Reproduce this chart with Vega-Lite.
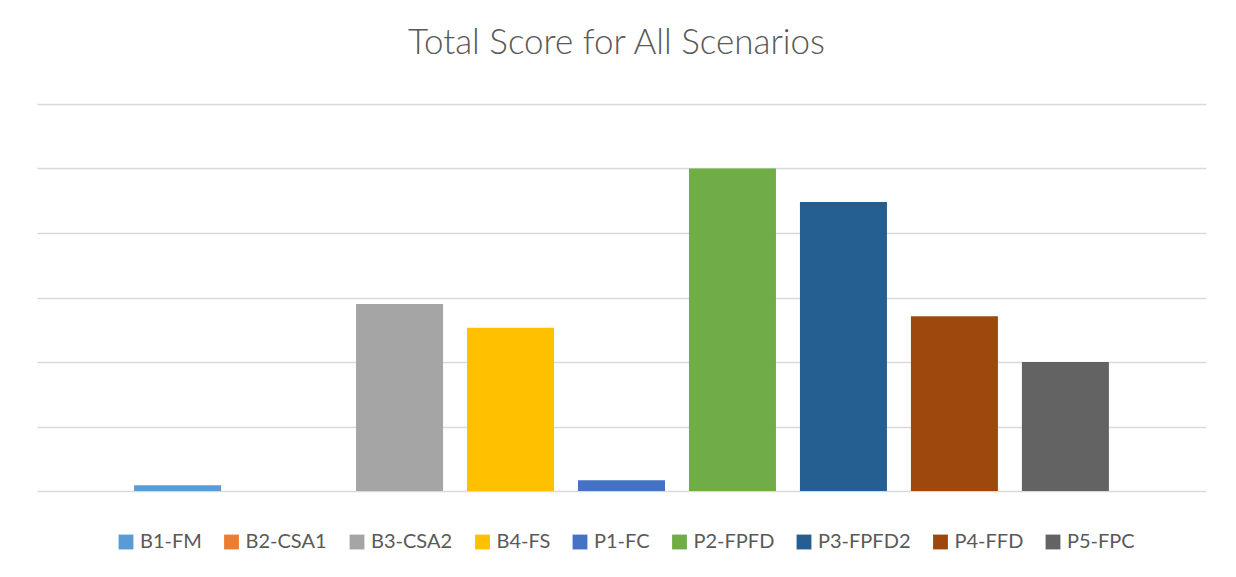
{
  "$schema": "https://vega.github.io/schema/vega-lite/v6.json",
  "width": 1169,
  "height": 387,
  "autosize": "none",
  "padding": {"left": 37, "top": 104, "right": 30, "bottom": 86},
  "background": "white",
  "title": {
    "text": "Total Score for All Scenarios",
    "font": "Lato",
    "fontWeight": 300,
    "fontSize": 35,
    "color": "#595959",
    "anchor": "middle",
    "dx": -5,
    "offset": 43
  },
  "data": {
    "values": [
      {"Scenario": "B1-FM", "Score": 0.09},
      {"Scenario": "B2-CSA1", "Score": 0},
      {"Scenario": "B3-CSA2", "Score": 2.9},
      {"Scenario": "B4-FS", "Score": 2.53},
      {"Scenario": "P1-FC", "Score": 0.166},
      {"Scenario": "P2-FPFD", "Score": 5.0},
      {"Scenario": "P3-FPFD2", "Score": 4.48},
      {"Scenario": "P4-FFD", "Score": 2.71},
      {"Scenario": "P5-FPC", "Score": 2.0}
    ]
  },
  "mark": {"type": "bar"},
  "encoding": {
    "x": {
      "field": "Scenario",
      "type": "nominal",
      "sort": null,
      "scale": {"paddingInner": 0.216, "paddingOuter": 0.875},
      "axis": null
    },
    "y": {
      "field": "Score",
      "type": "quantitative",
      "scale": {"domain": [0, 6], "nice": false},
      "axis": {
        "values": [0, 1, 2, 3, 4, 5, 6],
        "labels": false,
        "ticks": false,
        "domain": false,
        "title": null,
        "grid": true,
        "gridColor": "#D9D9D9",
        "gridWidth": 1.5
      }
    },
    "color": {
      "field": "Scenario",
      "type": "nominal",
      "sort": null,
      "scale": {
        "domain": ["B1-FM", "B2-CSA1", "B3-CSA2", "B4-FS", "P1-FC", "P2-FPFD", "P3-FPFD2", "P4-FFD", "P5-FPC"],
        "range": ["#5B9BD5", "#ED7D31", "#A5A5A5", "#FFC000", "#4472C4", "#70AD47", "#255E91", "#9E480E", "#636363"]
      },
      "legend": {
        "title": null,
        "orient": "none",
        "legendX": 79,
        "legendY": 428,
        "direction": "horizontal",
        "symbolType": "square",
        "symbolSize": 220,
        "symbolStrokeWidth": 0,
        "labelFont": "Lato",
        "labelFontSize": 20,
        "labelColor": "#595959",
        "labelOffset": 4,
        "columnPadding": 19.5
      }
    }
  },
  "config": {"view": {"stroke": null}}
}
